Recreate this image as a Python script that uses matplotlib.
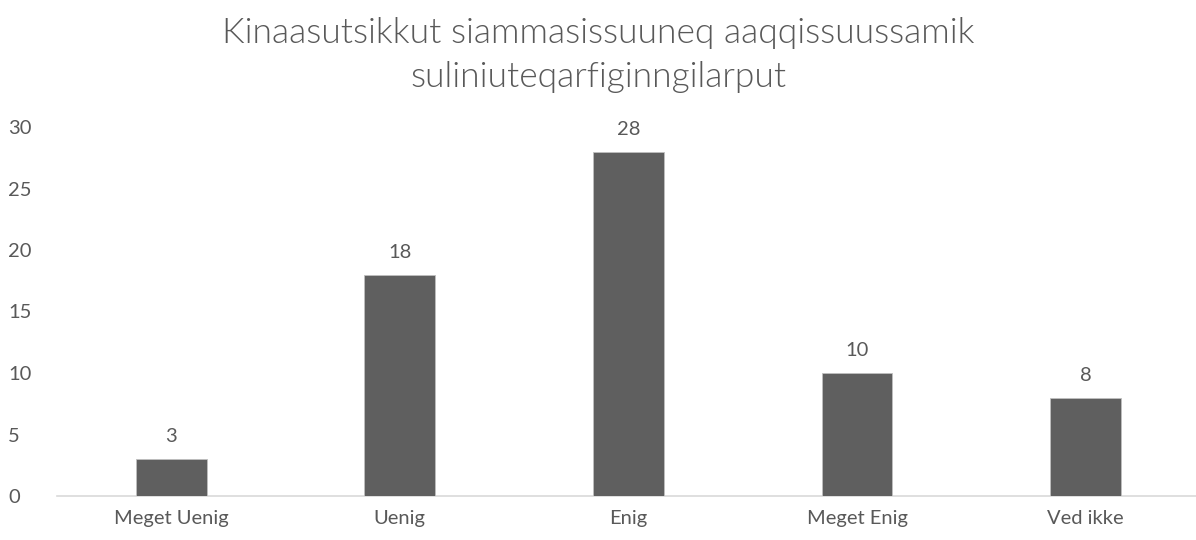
import matplotlib
matplotlib.use("Agg")
import matplotlib.pyplot as plt

categories = ["Meget Uenig", "Uenig", "Enig", "Meget Enig", "Ved ikke"]
values = [3, 18, 28, 10, 8]
yticks = [0, 5, 10, 15, 20, 25, 30]
title = "Kinaasutsikkut siammasissuuneq aaqqissuussamik\nsuliniuteqarfiginngilarput"

plt.rcParams['font.family'] = ['Lato', 'DejaVu Sans']
txt = '#595959'

fig = plt.figure(figsize=(11.96, 5.40), dpi=100)
ax = fig.add_axes([57/1196, 44/540, 1139/1196, 369/540])

x = list(range(len(categories)))
bars = ax.bar(x, values, width=0.31, color='#5f5f5f', edgecolor='#bfbfbf', linewidth=0.6, zorder=3)
for xi, v in zip(x, values):
    ax.annotate(str(v), (xi, v), xytext=(0, 10), textcoords='offset points',
                ha='center', va='bottom', fontsize=14.5, color=txt)

ax.set_xlim(-0.5, 4.483)
ax.set_ylim(0, 30)
ax.set_yticks(yticks)
ax.set_xticks(x)
ax.set_xticklabels(categories)
for s in ['top', 'right', 'left']:
    ax.spines[s].set_visible(False)
ax.spines['bottom'].set_color('#d9d9d9')
ax.spines['bottom'].set_linewidth(1.2)
ax.tick_params(axis='both', length=0, labelsize=14.5, labelcolor=txt)
ax.tick_params(axis='y', pad=35)
ax.tick_params(axis='x', pad=10)
for lab in ax.get_yticklabels():
    lab.set_horizontalalignment('left')

fig.text(0.5, 0.968, title, ha='center', va='top', fontsize=25.5, color=txt,
         fontweight=300, linespacing=1.45)

fig.savefig("out.png", dpi=100)
